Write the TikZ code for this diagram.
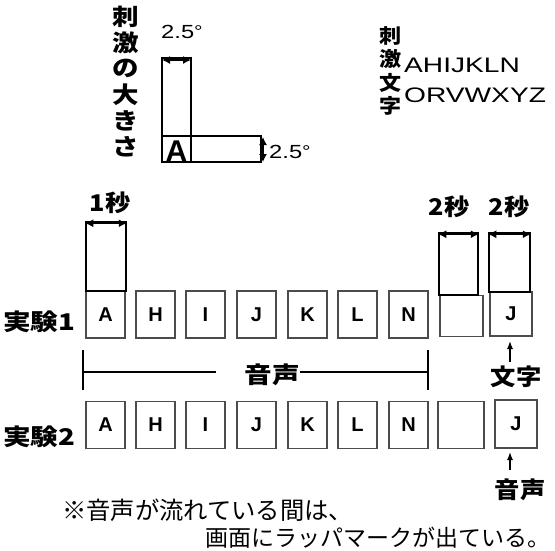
\documentclass[tikz,border=0pt]{standalone}
\usepackage{fontspec}
\usepackage{graphicx}
\setmainfont{Liberation Sans}
\newfontfamily\cjk{Noto Sans CJK JP}
\usetikzlibrary{arrows.meta}
\newcommand{\wx}[2]{\scalebox{#1}[1]{#2}}
\newcommand{\degl}{\wx{1.25}{\fontsize{19}{19}\selectfont 2.5\raisebox{1pt}{\fontsize{17}{17}\selectfont\textdegree}}}
\begin{document}
\begin{tikzpicture}[x=1pt,y=-1pt,
  box/.style={draw=black!70,line width=1.2pt,minimum width=39pt,minimum height=47pt,inner sep=0pt,font=\fontsize{20}{20}\selectfont\bfseries},
  ext/.style={draw=black,line width=1.5pt,inner sep=0pt},
  jlab/.style={font=\cjk\bfseries\fontsize{23}{23}\selectfont,inner sep=0pt},
  dim/.style={{Latex[length=8pt,width=8pt]}-{Latex[length=8pt,width=8pt]},line width=1.3pt},
  up/.style={-{Latex[length=8pt,width=6pt]},line width=1.3pt}]
\useasboundingbox (0,0) rectangle (555,550);
% stimulus size
\node[inner sep=0pt] (sizelab) at (126,84) {\wx{1.15}{\cjk\bfseries\fontsize{23}{23.5}\selectfont\begin{tabular}{@{}c@{}}刺\\激\\の\\大\\き\\さ\end{tabular}}};
\node[draw,line width=1.5pt,minimum width=29pt,minimum height=104pt,inner sep=0pt] (tall) at (176.5,110) {};
\node[draw,line width=1.5pt,minimum width=99pt,minimum height=26pt,inner sep=0pt] (wide) at (211.5,149) {};
\node[font=\fontsize{30}{30}\selectfont\bfseries,inner sep=0pt] (bigA) at (176.5,151) {A};
\coordinate (ta) at (162,60);
\coordinate (tb) at (191,60);
\draw[dim] (ta) -- (tb);
\node[inner sep=0pt,anchor=west] (w25) at (161,32) {\degl};
\coordinate (va) at (263,137);
\coordinate (vb) at (263,162);
\draw[dim] (va) -- (vb);
\node[anchor=west,inner sep=0pt] (h25) at (269,152) {\degl};
% stimulus letters
\node[inner sep=0pt] (mojilab) at (390,73) {\wx{1.1}{\cjk\bfseries\fontsize{20}{20}\selectfont\begin{tabular}{@{}c@{}}刺\\激\\文\\字\end{tabular}}};
\node[anchor=west,inner sep=0pt] (let1) at (404,65) {\wx{1.34}{\fontsize{21}{21}\selectfont AHIJKLN}};
\node[anchor=west,inner sep=0pt] (let2) at (404,95) {\wx{1.34}{\fontsize{21}{21}\selectfont ORVWXYZ}};
% row 1
\node[jlab,anchor=west] (ex1) at (3,322) {\wx{1.2}{実験1}};
\node[box] (a1) at (105.5,314.5) {A};
\node[box] (h1) at (155.5,314.5) {H};
\node[box] (i1) at (205.5,314.5) {I};
\node[box] (j1) at (256.5,314.5) {J};
\node[box] (k1) at (307.5,314.5) {K};
\node[box] (l1) at (357.5,314.5) {L};
\node[box] (n1) at (408.5,314.5) {N};
\node[box,minimum width=43pt,minimum height=41pt] (e1) at (461.5,316) {};
\node[box,minimum width=42pt,minimum height=44pt] (jj1) at (511,314) {J};
% extensions
\node[ext,minimum width=40pt,minimum height=69pt] (xa) at (106,256.5) {};
\node[ext,minimum width=39pt,minimum height=62pt] (xe) at (458.5,264) {};
\node[ext,minimum width=41pt,minimum height=59pt] (xj) at (509.5,262.5) {};
\draw[dim] (xa.north west) ++(0,2) coordinate (xa1) -- (xa.north east |- xa1);
\draw[dim] (xe.north west) ++(0,2) coordinate (xe1) -- (xe.north east |- xe1);
\draw[dim] (xj.north west) ++(0,2) coordinate (xj1) -- (xj.north east |- xj1);
\node[jlab] (s1) at (110,203) {\wx{1.1}{1秒}};
\node[jlab] (s2) at (449,207) {\wx{1.1}{2秒}};
\node[jlab] (s3) at (509,207) {\wx{1.1}{2秒}};
% sound span
\node[jlab] (snd) at (272,375) {\wx{1.2}{音声}};
\coordinate (t1a) at (83,350);
\coordinate (t1b) at (83,390);
\coordinate (t2a) at (428,350);
\coordinate (t2b) at (428,390);
\draw[line width=1.4pt] (t1a) -- (t1b);
\draw[line width=1.4pt] (t2a) -- (t2b);
\draw[line width=1.2pt] (83,372) -- (216,372);
\draw[line width=1.2pt] (snd.east |- 0,372) -- (428,372);
% moji arrow
\node[jlab] (moji) at (516,377) {\wx{1.1}{文字}};
\draw[up] (510,362) -- (510,341);
% row 2
\node[jlab,anchor=west] (ex2) at (3,437) {\wx{1.2}{実験2}};
\node[box] (a2) at (105.5,425) {A};
\node[box] (h2) at (155.5,425) {H};
\node[box] (i2) at (205.5,425) {I};
\node[box] (j2) at (256.5,425) {J};
\node[box] (k2) at (307.5,425) {K};
\node[box] (l2) at (357.5,425) {L};
\node[box] (n2) at (408.5,425) {N};
\node[box,minimum width=46pt] (e2) at (461,425) {};
\node[box,minimum width=42pt,minimum height=48pt] (jj2) at (516,424) {J};
\node[jlab] (onsei) at (520,490) {\wx{1.1}{音声}};
\draw[up] (510,470) -- (510,452);
% note
\node[font=\cjk\fontsize{24.3}{24.3}\selectfont,anchor=west,inner sep=0pt] (note1) at (62,510) {※音声が流れている間は、};
\node[font=\cjk\fontsize{23}{23}\selectfont,anchor=west,inner sep=0pt] (note2) at (205,538) {画面にラッパマークが出ている。};
\end{tikzpicture}
\end{document}
